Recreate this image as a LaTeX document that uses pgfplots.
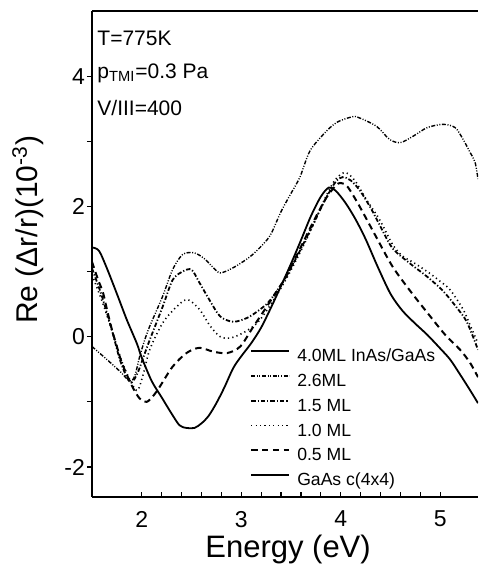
\documentclass[border=0pt]{standalone}
\usepackage{fontspec}
\setmainfont{Liberation Sans}
\usepackage{pgfplots}
\pgfplotsset{compat=1.18}
\begin{document}
\begin{tikzpicture}
\useasboundingbox (-46pt,-42.5pt) rectangle (193pt,248.5pt);
\begin{axis}[
  at={(0pt,0pt)}, anchor=south west,
  scale only axis, width=193pt, height=243pt,
  xmin=1.5, xmax=5.38, ymin=-2.46, ymax=5.0,
  axis x line=box, axis y line=left,
  axis line style={-, line width=0.6pt},
  xtick pos=left, ytick pos=left,
  xtick={2,3,4,5}, ytick={-2,0,2,4},
  minor x tick num=4, minor y tick num=1,
  major tick length=2.6pt, minor tick length=2.6pt,
  tick align=inside,
  tick style={line width=0.6pt, black},
  ytick style={xshift=-2.6pt},
  /pgf/number format/assume math mode=true,
  tick label style={font=\fontsize{11.5}{13}\selectfont},
  xticklabel style={yshift=-3.5pt},
  xlabel={Energy (eV)},
  xlabel style={at={(axis description cs:0.508,-0.1255)}, anchor=base, font=\fontsize{15.5}{18}\selectfont},
  ylabel={Re (Δr/r)(10\textsuperscript{-3})},
  ylabel style={at={(axis description cs:-0.166,0.55)}, anchor=center, font=\fontsize{15}{18}\selectfont},
  clip mode=individual,
  legend cell align=left,
  legend image code/.code={\draw[#1] (0pt,3pt) -- (19pt,3pt);},
  legend style={draw=none, fill=none, at={(axis description cs:0.409,0.31)}, anchor=north west,
    inner sep=0pt, font=\fontsize{8.8}{10}\selectfont, row sep=2.1pt,
    nodes={inner sep=1pt, text height=6.5pt, text depth=1.8pt},
    /tikz/every odd column/.append style={column sep=2.5pt}},
]
\addlegendimage{line width=0.9pt}
\addlegendentry{4.0ML InAs/GaAs}

% 2.6 ML
\addplot[line width=0.7pt, dash pattern=on 2pt off 0.8pt on 0.5pt off 0.8pt on 0.5pt off 0.8pt, smooth, tension=0.5] table {
1.50 -0.15
1.65 -0.35
1.78 -0.53
1.88 -0.68
1.93 -0.60
1.98 -0.30
2.03 -0.05
2.08 0.16
2.21 0.62
2.31 1.03
2.41 1.26
2.52 1.29
2.62 1.21
2.72 1.06
2.79 0.98
2.92 1.06
3.09 1.23
3.22 1.42
3.30 1.58
3.40 1.92
3.50 2.20
3.59 2.45
3.69 2.85
3.84 3.13
3.96 3.29
4.10 3.37
4.17 3.37
4.36 3.23
4.49 3.03
4.60 2.98
4.73 3.08
4.87 3.21
5.03 3.26
5.15 3.21
5.23 3.03
5.30 2.83
5.35 2.68
5.38 2.42
};
\addlegendentry{2.6ML}

% 1.5 ML
\addplot[line width=0.9pt, dash pattern=on 2.2pt off 1pt on 0.6pt off 1pt, smooth, tension=0.5] table {
1.50 1.05
1.60 0.62
1.70 0.10
1.78 -0.35
1.85 -0.62
1.90 -0.70
1.96 -0.55
2.02 -0.30
2.08 -0.05
2.21 0.46
2.31 0.87
2.41 1.00
2.50 1.03
2.58 0.83
2.69 0.54
2.79 0.31
2.92 0.23
3.06 0.29
3.19 0.42
3.29 0.56
3.45 0.92
3.60 1.35
3.72 1.72
3.85 2.12
3.95 2.38
4.02 2.45
4.10 2.40
4.19 2.25
4.30 1.98
4.39 1.72
4.52 1.36
4.70 1.12
4.87 0.92
5.03 0.70
5.17 0.44
5.27 0.22
5.38 -0.20
};
\addlegendentry{1.5 ML}

% 1.0 ML
\addplot[line width=0.8pt, dash pattern=on 0.6pt off 1.6pt, smooth, tension=0.5] table {
1.50 0.95
1.60 0.55
1.70 0.10
1.80 -0.38
1.90 -0.72
1.96 -0.82
2.02 -0.55
2.08 -0.20
2.21 0.21
2.35 0.46
2.46 0.57
2.58 0.42
2.69 0.16
2.79 0.00
2.89 -0.02
3.02 0.06
3.16 0.21
3.29 0.48
3.45 0.88
3.60 1.32
3.72 1.70
3.85 2.15
3.95 2.42
4.05 2.52
4.15 2.38
4.26 2.10
4.39 1.80
4.52 1.42
4.62 1.24
4.73 1.14
4.87 1.00
5.00 0.85
5.10 0.72
5.23 0.42
5.30 0.18
5.38 -0.10
};
\addlegendentry{1.0 ML}

% 0.5 ML
\addplot[line width=1pt, dash pattern=on 3.2pt off 2.2pt, smooth, tension=0.5] table {
1.50 1.15
1.56 0.88
1.61 0.68
1.65 0.42
1.70 0.11
1.75 -0.15
1.80 -0.40
1.90 -0.75
1.98 -0.95
2.05 -1.00
2.12 -0.90
2.18 -0.77
2.31 -0.46
2.45 -0.25
2.58 -0.17
2.72 -0.23
2.86 -0.25
2.99 -0.15
3.12 0.15
3.29 0.54
3.45 0.92
3.60 1.38
3.72 1.75
3.85 2.12
3.95 2.32
4.00 2.36
4.07 2.30
4.19 2.00
4.35 1.55
4.52 1.08
4.70 0.70
4.87 0.37
5.05 0.03
5.20 -0.20
5.30 -0.40
5.38 -0.62
};
\addlegendentry{0.5 ML}

% GaAs c(4x4)
\addplot[line width=0.9pt, smooth, tension=0.5] table {
1.50 1.37
1.57 1.32
1.65 1.05
1.75 0.66
1.85 0.26
1.95 -0.10
2.00 -0.32
2.10 -0.68
2.20 -0.93
2.30 -1.18
2.38 -1.36
2.45 -1.40
2.53 -1.40
2.60 -1.33
2.67 -1.22
2.75 -1.02
2.83 -0.78
2.92 -0.48
3.00 -0.30
3.10 -0.10
3.20 0.14
3.30 0.45
3.40 0.78
3.50 1.12
3.60 1.48
3.70 1.85
3.80 2.15
3.88 2.29
3.95 2.24
4.05 2.05
4.15 1.80
4.25 1.50
4.37 1.08
4.50 0.66
4.62 0.40
4.75 0.20
4.87 0.03
5.00 -0.18
5.10 -0.35
5.20 -0.58
5.30 -0.82
5.38 -1.02
};
\addlegendentry{GaAs c(4x4)}

\node[anchor=base west, font=\fontsize{10.5}{12}\selectfont, inner sep=0pt] at (axis description cs:0.013,0.930) {T=775K};
\node[anchor=base west, font=\fontsize{10.5}{12}\selectfont, inner sep=0pt] at (axis description cs:0.013,0.862) {p\textsubscript{TMI}=0.3 Pa};
\node[anchor=base west, font=\fontsize{10.5}{12}\selectfont, inner sep=0pt] at (axis description cs:0.013,0.786) {V/III=400};
\end{axis}
\end{tikzpicture}
\end{document}
